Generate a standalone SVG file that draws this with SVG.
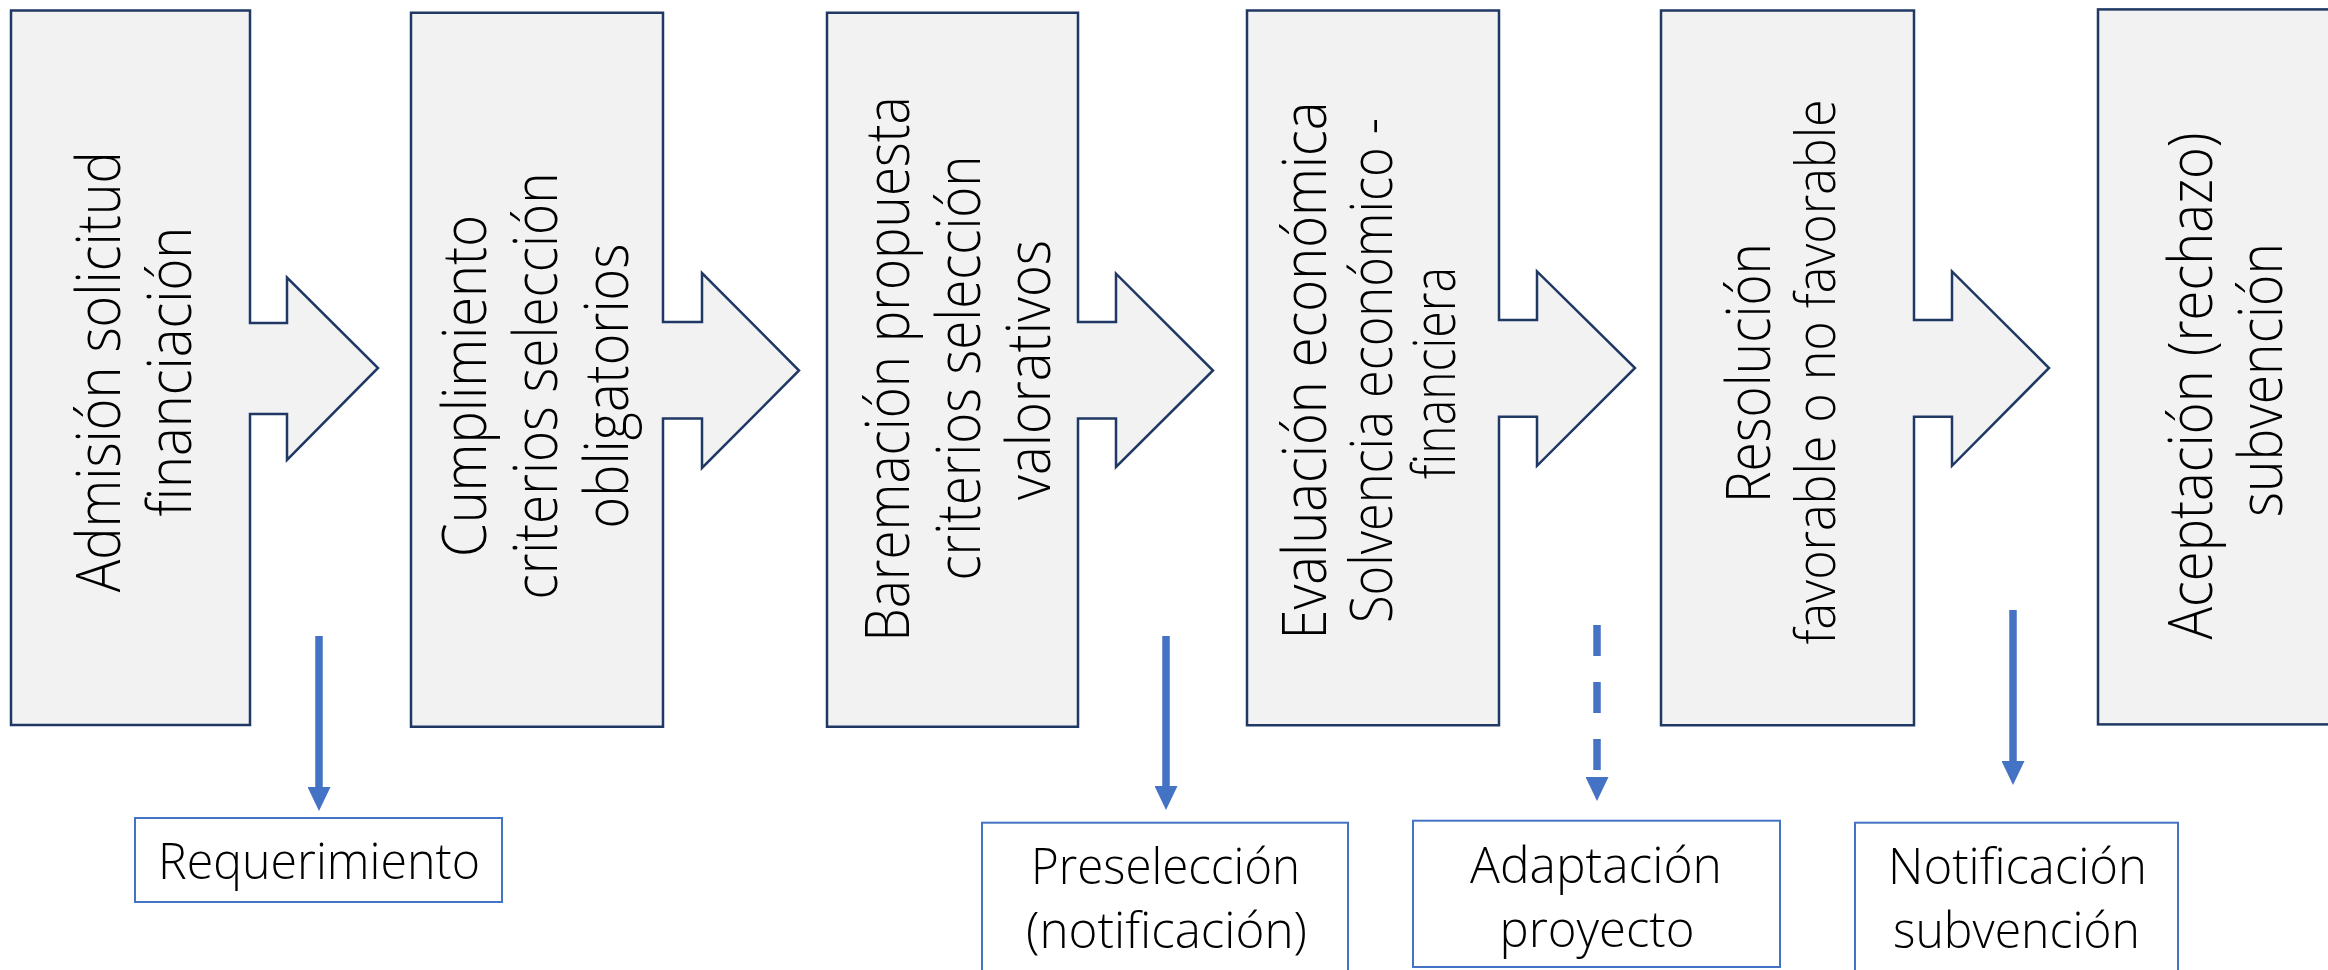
<svg xmlns="http://www.w3.org/2000/svg" width="2328" height="970" viewBox="0 0 2328 970">
<defs>
<style>
.node{fill:#F2F2F2;stroke:#1F3864;stroke-width:2.5;stroke-linejoin:miter}
.nt{font-family:"Open Sans","Noto Sans","Liberation Sans",sans-serif;font-weight:300;font-size:60px;fill:#000;text-anchor:middle}
.lb{fill:#FFFFFF;stroke:#4472C4;stroke-width:2}
.lt{font-family:"Open Sans","Noto Sans","Liberation Sans",sans-serif;font-weight:300;font-size:50px;fill:#000;text-anchor:middle}
.con{fill:none;stroke:#4472C4;stroke-width:7.5}
.dash{stroke-dasharray:31 26}
</style>
<marker id="ah" viewBox="0 0 24 23" refX="0" refY="11.5" markerWidth="24" markerHeight="23" markerUnits="userSpaceOnUse" orient="auto">
<path d="M0,0 L24,11.5 L0,23 Z" fill="#4472C4"/>
</marker>
</defs>
<rect width="2328" height="970" fill="#FFFFFF"/>

<g id="node1">
<path class="node" d="M11,10.4 H250 V323 H287 V277.5 L378,368 L287,460 V414 H250 V725 H11 Z"/>
<text class="nt" transform="translate(120,371.7) rotate(-90)" textLength="441" lengthAdjust="spacingAndGlyphs">Admisión solicitud</text>
<text class="nt" transform="translate(191,371.6) rotate(-90)" textLength="290" lengthAdjust="spacingAndGlyphs">financiación</text>
</g>

<g id="node2">
<path class="node" d="M411,12.7 H663 V322 H702 V273 L799,370.5 L702,468 V418.6 H663 V726.8 H411 Z"/>
<text class="nt" transform="translate(486,386) rotate(-90)" textLength="342" lengthAdjust="spacingAndGlyphs">Cumplimiento</text>
<text class="nt" transform="translate(557,386) rotate(-90)" textLength="427" lengthAdjust="spacingAndGlyphs">criterios selección</text>
<text class="nt" transform="translate(628,386) rotate(-90)" textLength="285" lengthAdjust="spacingAndGlyphs">obligatorios</text>
</g>

<g id="node3">
<path class="node" d="M827,12.7 H1078 V322 H1116 V273.7 L1213,370.5 L1116,467 V418.6 H1078 V726.8 H827 Z"/>
<text class="nt" transform="translate(909,369) rotate(-90)" textLength="545" lengthAdjust="spacingAndGlyphs">Baremación propuesta</text>
<text class="nt" transform="translate(980,368) rotate(-90)" textLength="425" lengthAdjust="spacingAndGlyphs">criterios selección</text>
<text class="nt" transform="translate(1050,370) rotate(-90)" textLength="260" lengthAdjust="spacingAndGlyphs">valorativos</text>
</g>

<g id="node4">
<path class="node" d="M1247,10.4 H1499 V320 H1537 V271.4 L1635,368 L1537,465.8 V416.7 H1499 V725.3 H1247 Z"/>
<text class="nt" transform="translate(1326,370.5) rotate(-90)" textLength="538" lengthAdjust="spacingAndGlyphs">Evaluación económica</text>
<text class="nt" style="font-size:58px" transform="translate(1392,370.5) rotate(-90)" textLength="505" lengthAdjust="spacingAndGlyphs">Solvencia económico -</text>
<text class="nt" style="font-size:58px" transform="translate(1455,373) rotate(-90)" textLength="212" lengthAdjust="spacingAndGlyphs">financiera</text>
</g>

<g id="node5">
<path class="node" d="M1661,10.4 H1914 V320 H1952 V271.4 L2049,368 L1952,465.8 V416.7 H1914 V725.3 H1661 Z"/>
<text class="nt" transform="translate(1770,373) rotate(-90)" textLength="260" lengthAdjust="spacingAndGlyphs">Resolución</text>
<text class="nt" style="font-size:56px" transform="translate(1835,372) rotate(-90)" textLength="545" lengthAdjust="spacingAndGlyphs">favorable o no favorable</text>
</g>

<g id="node6">
<rect class="node" x="2098" y="9.4" width="280" height="715"/>
<text class="nt" transform="translate(2212,386) rotate(-90)" textLength="507" lengthAdjust="spacingAndGlyphs">Aceptación (rechazo)</text>
<text class="nt" transform="translate(2282,380) rotate(-90)" textLength="274" lengthAdjust="spacingAndGlyphs">subvención</text>
</g>

<g id="connectors">
<path class="con" d="M319,636 V787" marker-end="url(#ah)"/>
<path class="con" d="M1166,636 V786" marker-end="url(#ah)"/>
<path class="con dash" d="M1597,625 V777" marker-end="url(#ah)"/>
<path class="con" d="M2013,610 V761" marker-end="url(#ah)"/>
</g>

<g id="label-requerimiento">
<rect class="lb" x="135" y="818" width="367" height="84"/>
<text class="lt" x="319" y="879" textLength="322" lengthAdjust="spacingAndGlyphs">Requerimiento</text>
</g>

<g id="label-preseleccion">
<rect class="lb" x="982" y="822.7" width="366" height="170"/>
<text class="lt" x="1165.5" y="884" textLength="269" lengthAdjust="spacingAndGlyphs">Preselección</text>
<text class="lt" x="1166.5" y="948" textLength="281" lengthAdjust="spacingAndGlyphs">(notificación)</text>
</g>

<g id="label-adaptacion">
<rect class="lb" x="1413" y="820.7" width="367" height="146.3"/>
<text class="lt" x="1596" y="882.7" textLength="252" lengthAdjust="spacingAndGlyphs">Adaptación</text>
<text class="lt" x="1597" y="946.7" textLength="195" lengthAdjust="spacingAndGlyphs">proyecto</text>
</g>

<g id="label-notificacion">
<rect class="lb" x="1855" y="822.7" width="323" height="170"/>
<text class="lt" x="2017.5" y="884" textLength="259" lengthAdjust="spacingAndGlyphs">Notificación</text>
<text class="lt" x="2016.5" y="948" textLength="247" lengthAdjust="spacingAndGlyphs">subvención</text>
</g>
</svg>
